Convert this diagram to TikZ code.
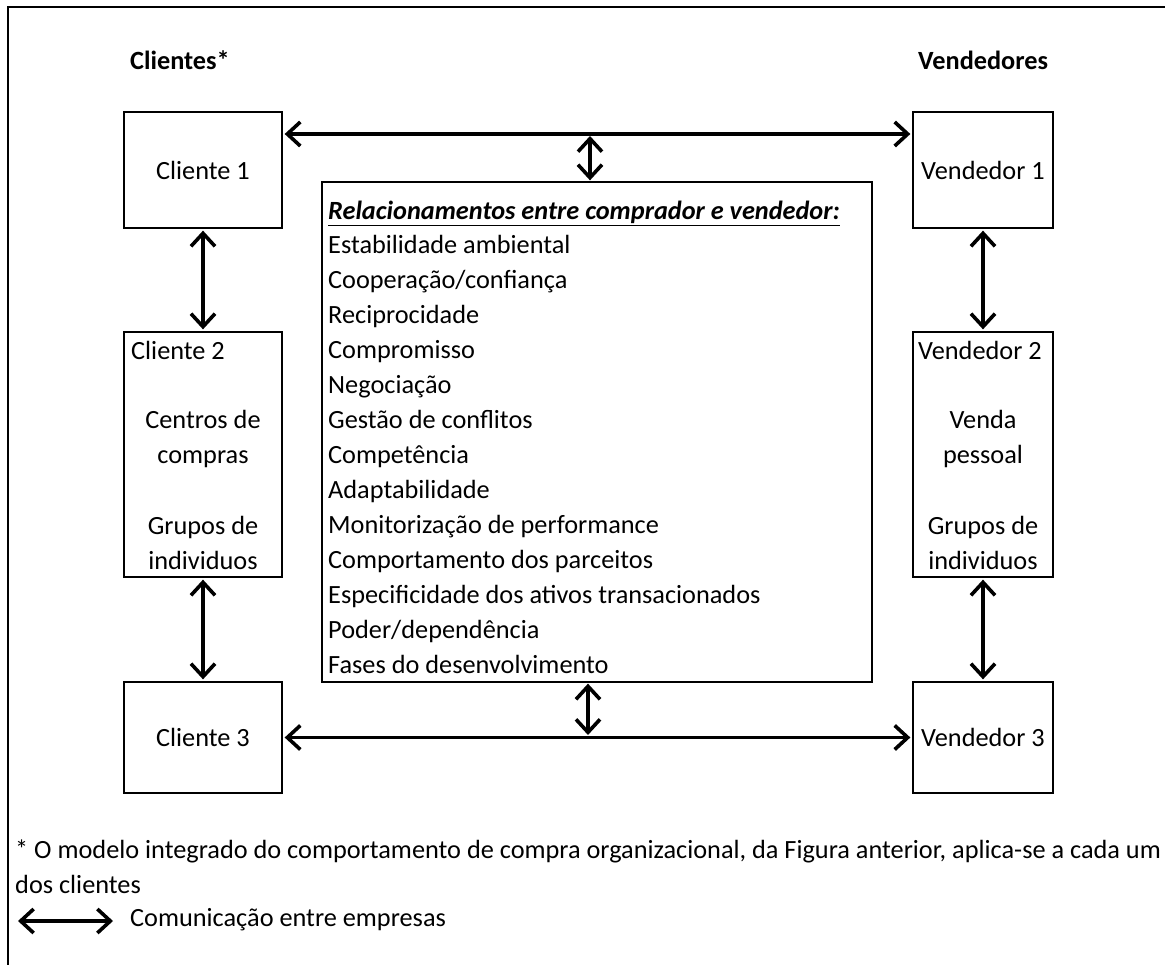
\documentclass[tikz,border=0pt]{standalone}
\usepackage{fontspec}
\setmainfont{Carlito}
\usetikzlibrary{arrows.meta}

\begin{document}
\begin{tikzpicture}[x=1pt, y=-1pt,
  font=\fontsize{26.3pt}{35pt}\selectfont,
  box/.style={draw, line width=1.3pt, rectangle, inner sep=0pt},
  cbox/.style={box, minimum width=158pt},
  vbox/.style={box, minimum width=140pt},
  comm/.style={line width=3.6pt, {Straight Barb[length=13pt, width=24pt]}-{Straight Barb[length=13pt, width=24pt]}},
  gap/.style={shorten <=2pt, shorten >=2pt},
  txt/.style={inner sep=0pt},
  head/.style={txt, font=\fontsize{26.3pt}{35pt}\selectfont\bfseries}]

\useasboundingbox (0,0) rectangle (1165,965);

% outer frame (left and top edges)
\draw[line width=1.3pt] (8,965) -- (8,7) -- (1165,7);

% column headings
\node[head, anchor=base west] (hcli) at (130,70) {Clientes*};
\node[head, anchor=base west] (hven) at (918,70) {Vendedores};

% client boxes
\node[cbox, minimum height=116pt] (c1) at (203,170) {Cliente 1};
\node[cbox, minimum height=245pt] (c2) at (203,454.5) {};
\node[cbox, minimum height=111pt] (c3) at (203,737.5) {Cliente 3};

% seller boxes
\node[vbox, minimum height=116pt] (v1) at (983,170) {Vendedor 1};
\node[vbox, minimum height=245pt] (v2) at (983,454.5) {};
\node[vbox, minimum height=111pt] (v3) at (983,737.5) {Vendedor 3};

% contents of the second client box
\node[txt, anchor=base west] (c2a) at (131,360) {Cliente 2};
\node[txt, anchor=base] (c2b) at (203,429) {Centros de};
\node[txt, anchor=base] (c2c) at (203,464) {compras};
\node[txt, anchor=base] (c2d) at (203,534) {Grupos de};
\node[txt, anchor=base] (c2e) at (203,569) {individuos};

% contents of the second seller box
\node[txt, anchor=base west] (v2a) at (918,360) {Vendedor 2};
\node[txt, anchor=base] (v2b) at (983,429) {Venda};
\node[txt, anchor=base] (v2c) at (983,464) {pessoal};
\node[txt, anchor=base] (v2d) at (983,534) {Grupos de};
\node[txt, anchor=base] (v2e) at (983,569) {individuos};

% central box with the list of relationship factors
\node[box, minimum width=550pt, minimum height=500pt] (rel) at (597,432) {};
\node[txt, anchor=base west] (reltitle) at (328,220)
  {\underline{\bfseries\itshape Relacionamentos entre comprador e vendedor:}};
\foreach \t [count=\i from 0] in {
  Estabilidade ambiental,
  Cooperação/confiança,
  Reciprocidade,
  Compromisso,
  Negociação,
  Gestão de conflitos,
  Competência,
  Adaptabilidade,
  Monitorização de performance,
  Comportamento dos parceitos,
  Especificidade dos ativos transacionados,
  Poder/dependência,
  Fases do desenvolvimento}
  \node[txt, anchor=base west] (item\i) at (328,{254+34.95*\i}) {\t};

% communication links
\coordinate (tline) at (590,134);
\coordinate (bline) at (588,737);
\draw[comm, gap] ([yshift=36pt]c1.east) -- ([yshift=36pt]v1.west);
\draw[comm, shorten <=2pt, shorten >=1pt] (tline) -- (tline |- rel.north);
\draw[comm, gap] (c3.east) -- (v3.west);
\draw[comm, shorten <=1pt, shorten >=2pt] (bline |- rel.south) -- (bline);
\draw[comm, gap] (c1.south) -- (c2.north);
\draw[comm, gap] (c2.south) -- (c3.north);
\draw[comm, gap] (v1.south) -- (v2.north);
\draw[comm, gap] (v2.south) -- (v3.north);

% footnote and legend
\node[txt, anchor=base west] (note1) at (15,858)
  {* O modelo integrado do comportamento de compra organizacional, da Figura anterior, aplica-se a cada um};
\node[txt, anchor=base west] (note2) at (15,893) {dos clientes};
\coordinate (legA) at (18,921);
\coordinate (legB) at (113,921);
\draw[comm] (legA) -- (legB);
\node[txt, anchor=base west] (legtext) at (130,926) {Comunicação entre empresas};
\end{tikzpicture}
\end{document}
